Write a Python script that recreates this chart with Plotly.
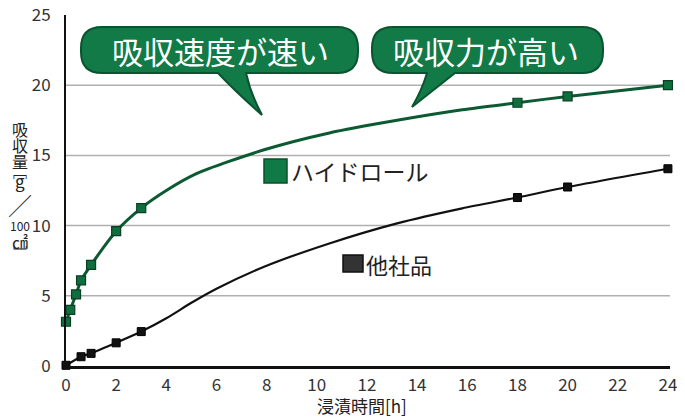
import plotly.graph_objects as go

# ---------------- data ----------------
hydro_hours = [0, 0.17, 0.4, 0.6, 1, 2, 3, 18, 20, 24]
hydro_values = [3.15, 4.0, 5.1, 6.1, 7.2, 9.6, 11.25, 18.75, 19.2, 20.0]
# values read along the drawn (smoothed) curve between the markers
hydro_curve_hours = [0, 0.17, 0.4, 0.6, 1, 2, 3, 4, 5.2, 7.9, 10.5, 13.2, 15.8, 18, 20, 24]
hydro_curve_values = [3.15, 4.0, 5.1, 6.1, 7.2, 9.6, 11.25, 12.5, 13.7, 15.4, 16.6, 17.5, 18.25, 18.75, 19.2, 20.0]

other_hours = [0, 0.6, 1, 2, 3, 18, 20, 24]
other_values = [0.05, 0.66, 0.9, 1.65, 2.45, 12.0, 12.75, 14.05]
other_curve_hours = [0, 0.6, 1, 2, 3, 4, 5, 6, 7.9, 10.5, 13.2, 15.8, 18, 20, 24]
other_curve_values = [0.05, 0.66, 0.9, 1.65, 2.45, 3.4, 4.5, 5.5, 7.07, 8.73, 10.16, 11.23, 12.0, 12.75, 14.05]

x_ticks = [0, 2, 4, 6, 8, 10, 12, 14, 16, 18, 20, 22, 24]
y_ticks = [0, 5, 10, 15, 20, 25]
grid_values = [5, 10, 15, 20]

label_hydro = "ハイドロール"
label_other = "他社品"
callout_speed = "吸収速度が速い"
callout_power = "吸収力が高い"
x_title = "浸漬時間[h]"

# ---------------- layout geometry ----------------
# The page body has an 8px default margin, so the figure is made 8px smaller
# and all reference-pixel geometry is expressed relative to the plot area.
OFF = 8
W, H = 685 - OFF, 418 - OFF
ML, MR, MT, MB = 66 - OFF, 15, 15 - OFF, 52
PW, PH = 604, 351          # plot area in reference pixels (x 66..670, y 15..366)
FONT = "Noto Sans CJK JP"
GREEN_LINE = "#0b5a32"
GREEN_FILL = "#117a46"
GREEN_EDGE = "#0a5430"


def px(x):
    return (x - 66) / PW


def py(y):
    return (366 - y) / PH


def P(x, y):
    return f"{px(x):.5f},{py(y):.5f}"


fig = go.Figure()

fig.add_trace(go.Scatter(x=other_curve_hours, y=other_curve_values, mode="lines",
                         line=dict(color="#111111", width=2.2, shape="spline", smoothing=0.7),
                         hoverinfo="skip", showlegend=False, cliponaxis=False))
fig.add_trace(go.Scatter(x=other_hours, y=other_values, mode="markers",
                         marker=dict(symbol="square", size=8, color="#111111",
                                     line=dict(color="#000000", width=1)),
                         showlegend=False, cliponaxis=False))
fig.add_trace(go.Scatter(x=hydro_curve_hours, y=hydro_curve_values, mode="lines",
                         line=dict(color=GREEN_LINE, width=3, shape="spline", smoothing=0.7),
                         hoverinfo="skip", showlegend=False, cliponaxis=False))
fig.add_trace(go.Scatter(x=hydro_hours, y=hydro_values, mode="markers",
                         marker=dict(symbol="square", size=9, color="#0f6e3d",
                                     line=dict(color="#083f22", width=1.2)),
                         showlegend=False, cliponaxis=False))

shapes = []
for g in grid_values:
    shapes.append(dict(type="line", xref="paper", yref="y", x0=0, x1=1, y0=g, y1=g,
                       line=dict(color="#b0b0b0", width=1.5), layer="below"))


def bubble(x0, x1, y0, y1, r, tail):
    rb, c1, tip, c2, lb = tail
    d = (f"M {P(x0 + r, y0)} L {P(x1 - r, y0)} Q {P(x1, y0)} {P(x1, y0 + r)} "
         f"L {P(x1, y1 - r)} Q {P(x1, y1)} {P(x1 - r, y1)} "
         f"L {P(rb, y1)} Q {P(*c1)} {P(*tip)} Q {P(*c2)} {P(lb, y1)} "
         f"L {P(x0 + r, y1)} Q {P(x0, y1)} {P(x0, y1 - r)} "
         f"L {P(x0, y0 + r)} Q {P(x0, y0)} {P(x0 + r, y0)} Z")
    return dict(type="path", xref="paper", yref="paper", path=d,
                fillcolor=GREEN_FILL, line=dict(color=GREEN_EDGE, width=2), layer="above")


shapes.append(bubble(81, 358, 27, 73, 21, (246, (251, 95), (262, 115), (236, 92), 218)))
shapes.append(bubble(372, 603, 27, 73, 21, (455, (436, 88), (412, 107), (422, 90), 427)))

# legend-like squares
shapes.append(dict(type="rect", xref="paper", yref="paper", x0=px(264), x1=px(287), y0=py(183), y1=py(159),
                   fillcolor="#0f7a45", line=dict(color="#0a4f2b", width=1.5), layer="above"))
shapes.append(dict(type="rect", xref="paper", yref="paper", x0=px(343), x1=px(363), y0=py(272), y1=py(255),
                   fillcolor="#333333", line=dict(color="#111111", width=1.5), layer="above"))

ann = []
ann.append(dict(x=px(220), y=py(50), xref="paper", yref="paper", text=callout_speed, showarrow=False,
                font=dict(family=FONT, size=31, color="white"), xanchor="center", yanchor="middle"))
ann.append(dict(x=px(486), y=py(50), xref="paper", yref="paper", text=callout_power, showarrow=False,
                font=dict(family=FONT, size=31, color="white"), xanchor="center", yanchor="middle"))
ann.append(dict(x=px(289), y=py(171), xref="paper", yref="paper", text=label_hydro, showarrow=False,
                font=dict(family=FONT, size=23, color="#222222"), xanchor="left", yanchor="middle"))
ann.append(dict(x=px(364), y=py(264), xref="paper", yref="paper", text=label_other, showarrow=False,
                font=dict(family=FONT, size=22, color="#222222"), xanchor="left", yanchor="middle"))
ann.append(dict(x=px(362), y=py(405), xref="paper", yref="paper", text=x_title, showarrow=False,
                font=dict(family=FONT, size=17, color="#222222"), xanchor="center", yanchor="middle"))

ylabel_parts = [("吸", 129, 16), ("収", 145, 16), ("量", 161, 16), ("﹇", 171, 14), ("g", 181, 17),
                ("╱", 204, 22), ("100", 226, 12), ("㎠", 241, 16), ("﹈", 252, 14)]
for t, yy, s in ylabel_parts:
    ann.append(dict(x=px(20), y=py(yy), xref="paper", yref="paper", text=t, showarrow=False,
                    font=dict(family=FONT, size=s, color="#222222"), xanchor="center", yanchor="middle"))

fig.update_layout(
    width=W, height=H,
    margin=dict(l=ML, r=MR, t=MT, b=MB, autoexpand=False),
    paper_bgcolor="white", plot_bgcolor="white",
    shapes=shapes, annotations=ann,
    font=dict(family=FONT, color="#333333"),
    xaxis=dict(range=[0, PW / 25.08], tickvals=x_ticks, showgrid=False, zeroline=False,
               showline=True, linecolor="#111111", linewidth=3, ticks="", automargin=False,
               ticklabeloverflow="allow",
               tickfont=dict(family=FONT, size=17, color="#333333"), ticklabelstandoff=2),
    yaxis=dict(range=[0, 25], tickvals=y_ticks, showgrid=False, zeroline=False,
               showline=True, linecolor="#111111", linewidth=2, ticks="", automargin=False,
               ticklabeloverflow="allow",
               tickfont=dict(family=FONT, size=17, color="#333333"), ticklabelstandoff=10),
)

fig.write_html("out.html")
